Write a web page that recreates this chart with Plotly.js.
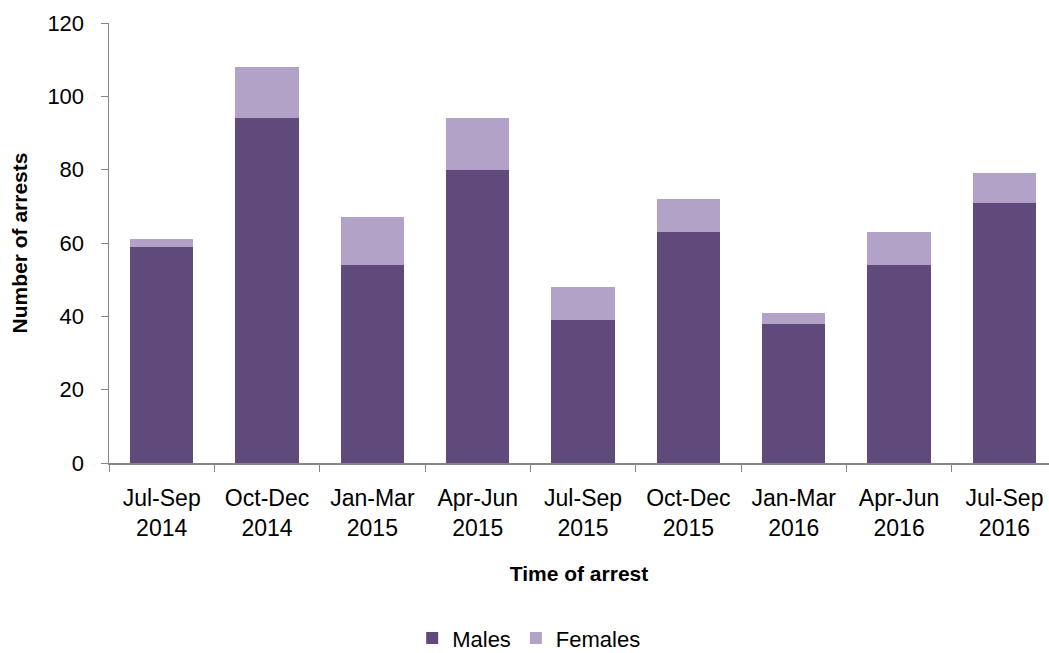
<!DOCTYPE html>
<html>
<head>
<meta charset="utf-8">
<script src="https://cdn.plot.ly/plotly-3.0.1.min.js"></script>
<style>html,body{margin:0;padding:0;background:#fff;}#chart{width:1049px;height:653px;}</style>
</head>
<body>
<div id="chart"></div>
<script>
var categories = ["Jul-Sep<br>2014","Oct-Dec<br>2014","Jan-Mar<br>2015","Apr-Jun<br>2015","Jul-Sep<br>2015","Oct-Dec<br>2015","Jan-Mar<br>2016","Apr-Jun<br>2016","Jul-Sep<br>2016"];
var males   = [59, 94, 54, 80, 39, 63, 38, 54, 71];
var females = [2, 14, 13, 14, 9, 9, 3, 9, 8];
var yTicks = [0, 20, 40, 60, 80, 100, 120];

var font = "Liberation Sans, Arial, sans-serif";
var traces = [
  {type:"bar", name:"Males", x:categories, y:males, marker:{color:"#604A7B", line:{width:0}}},
  {type:"bar", name:"Females", x:categories, y:females, marker:{color:"#B3A2C7", line:{width:0}}}
];
var layout = {
  width:1049, height:653,
  barmode:"stack", bargap:0.4,
  margin:{l:109, r:0, t:23, b:190, autoexpand:false},
  paper_bgcolor:"#fff", plot_bgcolor:"#fff",
  font:{family:font, size:22, color:"#000"},
  showlegend:true,
  legend:{orientation:"h", x:0.447, xanchor:"center", y:-0.398, yanchor:"middle", font:{size:22}, traceorder:"normal", itemwidth:30},
  xaxis:{type:"category", range:[-0.5, 8.423], tickson:"boundaries", ticks:"outside", ticklen:7, tickcolor:"#868686",
         showline:true, linecolor:"#868686", linewidth:1.5, showgrid:false, zeroline:false, automargin:false,
         tickfont:{size:23}, ticklabelstandoff:14,
         title:{text:"<b>Time of arrest</b>", font:{size:21}, standoff:26}},
  yaxis:{range:[0,120], tickvals:yTicks, ticks:"outside", ticklen:7, tickcolor:"#868686",
         showline:true, linecolor:"#868686", linewidth:1.5, showgrid:false, zeroline:false, automargin:false,
         tickfont:{size:22}, ticklabelstandoff:12,
         title:{text:"<b>Number of arrests</b>", font:{size:21}, standoff:14}}
};
Plotly.newPlot("chart", traces, layout, {displayModeBar:false, staticPlot:true});
</script>
</body>
</html>
